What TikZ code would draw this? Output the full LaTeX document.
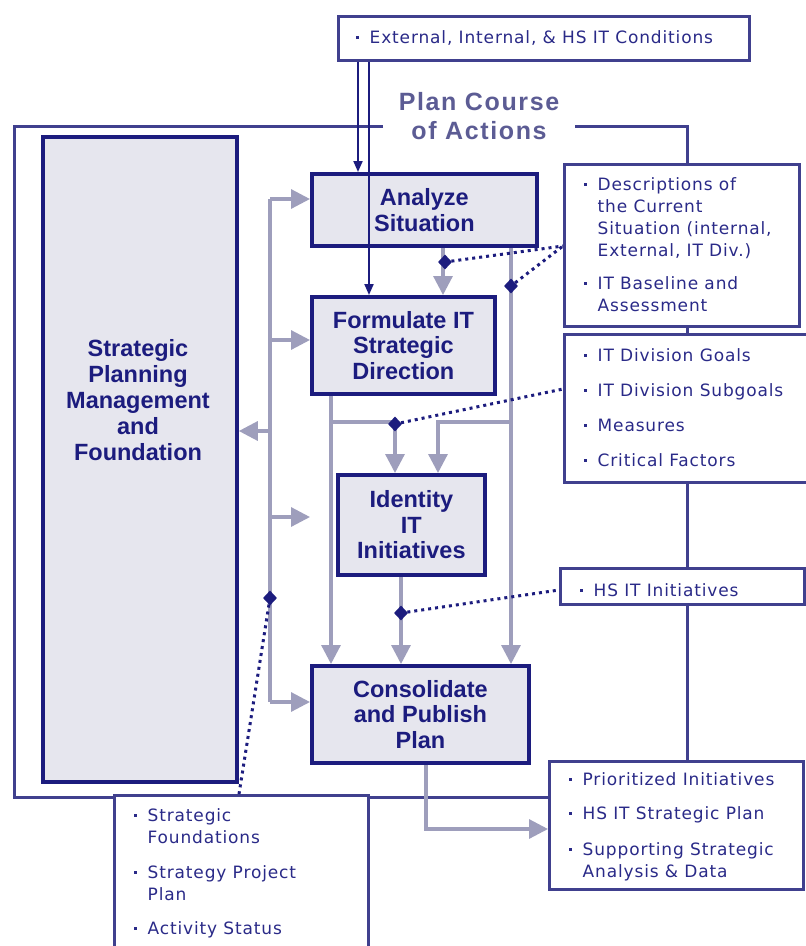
\documentclass[tikz,border=0pt]{standalone}
\usepackage{fontspec}
\setmainfont{Liberation Sans}
\newfontfamily\bulfont{DejaVu Sans}[LetterSpace=5]
\newfontfamily\ttlfont{Liberation Sans}[LetterSpace=6.5]
\usetikzlibrary{arrows.meta,shapes.geometric,calc}
\definecolor{navy}{HTML}{1C1C7E}
\definecolor{slate}{HTML}{40408E}
\definecolor{itextc}{HTML}{2A2A88}
\definecolor{grayc}{HTML}{9E9EBC}
\definecolor{fillc}{HTML}{E6E6EE}
\definecolor{titlec}{HTML}{5C5C94}
\newcommand{\bul}{\makebox[15pt][l]{\hspace{1pt}\raisebox{4.5pt}{\rule{3pt}{3pt}}}}
\tikzset{
  frame/.style={draw=slate, line width=3pt},
  infobox/.style={draw=slate, line width=3pt, fill=white, inner sep=0, anchor=north west},
  stepbox/.style={draw=navy, line width=3.8pt, fill=fillc, inner sep=0, anchor=north west,
     text=navy, align=center, font=\fontsize{23.5}{25.5}\selectfont\bfseries},
  steptext/.style={text=navy, align=center, inner sep=0, font=\fontsize{23.5}{26}\selectfont\bfseries},
  itext/.style={text=itextc, inner sep=0, anchor=base west, font={\bulfont\fontsize{17}{22}\selectfont}},
  ttl/.style={text=titlec, align=center, inner sep=0, font={\ttlfont\bfseries\fontsize{25}{29}\selectfont}},
  gline/.style={draw=grayc, line width=3.2pt},
  garrow/.style={draw=grayc, line width=3.2pt, -{Triangle[length=19pt,width=19pt]}},
  narrow/.style={draw=navy, line width=2pt, -{Triangle[length=11pt,width=9pt]}},
  dia/.style={diamond, fill=navy, inner sep=0, minimum width=14pt, minimum height=15pt},
  dotl/.style={draw=navy, line width=3pt, dash pattern=on 3pt off 4pt},
}
\begin{document}
\begin{tikzpicture}[x=1pt,y=-1pt]
\useasboundingbox (0,0) rectangle (806,946);
\fill[white] (0,0) rectangle (806,946);
% outer frame
\draw[frame] (383,126) -- (14,126) -- (14,797) -- (687,797) -- (687,126) -- (575,126);
\node[ttl] (title) at (479,116) {Plan Course\\of Actions};
% info boxes
\node[infobox, minimum width=411, minimum height=44] (tb) at (337,15) {};
\node[infobox, minimum width=235, minimum height=162] (desc) at (563,163) {};
\node[infobox, minimum width=260, minimum height=148] (goals) at (563,333) {};
\node[infobox, minimum width=244, minimum height=36] (hs) at (559,567) {};
\node[infobox, minimum width=254, minimum height=128] (pr) at (548,760) {};
\node[infobox, minimum width=254, minimum height=220] (sf) at (113,794) {};
% info texts
\node[itext] (tbt) at (354.5,43.5) {\bul External, Internal, \& HS IT Conditions};
\node[itext] (desct) at (582.5,190) {\begin{tabular}[t]{@{}l@{}l@{}}
  \bul & Descriptions of\\ & the Current\\ & Situation (internal,\\ & External, IT Div.)\\[11pt]
  \bul & IT Baseline and\\ & Assessment\end{tabular}};
\node[itext] (goalst) at (582.5,361) {\begin{tabular}[t]{@{}l@{}l@{}}
  \bul & IT Division Goals\\[13pt] \bul & IT Division Subgoals\\[13pt]
  \bul & Measures\\[13pt] \bul & Critical Factors\end{tabular}};
\node[itext] (hst) at (578.5,596) {\bul HS IT Initiatives};
\node[itext] (prt) at (567.5,785) {\begin{tabular}[t]{@{}l@{}l@{}}
  \bul & Prioritized Initiatives\\[12pt] \bul & HS IT Strategic Plan\\[14pt]
  \bul & Supporting Strategic\\ & Analysis \& Data\end{tabular}};
\node[itext] (sft) at (132.5,821) {\begin{tabular}[t]{@{}l@{}l@{}}
  \bul & Strategic\\ & Foundations\\[13pt] \bul & Strategy Project\\ & Plan\\[12pt]
  \bul & Activity Status\end{tabular}};
% step boxes
\node[stepbox, minimum width=194, minimum height=645] (sp) at (41,135) {};
\node[steptext] (spt) at (138,400) {Strategic\\Planning\\Management\\and\\Foundation};
\node[stepbox, minimum width=225, minimum height=72] (an) at (310,172) {Analyze\\Situation};
\node[stepbox, minimum width=183, minimum height=97] (fo) at (310,295) {Formulate IT\\Strategic\\Direction};
\node[stepbox, minimum width=147, minimum height=100] (id) at (336,473) {Identity\\IT\\Initiatives};
\node[stepbox, minimum width=217, minimum height=97] (co) at (310,664) {Consolidate\\and Publish\\Plan};
% gray bus
\coordinate (bt) at (270,199);
\coordinate (bb) at (270,702);
\coordinate (b2) at (270,340);
\coordinate (b3) at (270,431);
\coordinate (b4) at (270,517);
\coordinate (b4e) at (310,517);
\draw[gline] (bt) -- (bb);
\draw[garrow] (bt) -- (bt -| an.west);
\draw[garrow] (b2) -- (b2 -| fo.west);
\draw[garrow] (b3) -- (b3 -| sp.east);
\draw[garrow] (b4) -- (b4e);
\draw[garrow] (bb) -- (bb -| co.west);
% vertical flows
\coordinate (a1) at (443,0);
\coordinate (r1) at (511,0);
\coordinate (l1) at (331,0);
\coordinate (m1) at (401,0);
\draw[garrow] (an.south -| a1) -- (fo.north -| a1);
\draw[garrow] (an.south -| r1) -- (co.north -| r1);
\draw[garrow] (fo.south -| l1) -- (co.north -| l1);
\draw[garrow] (id.south -| m1) -- (co.north -| m1);
\coordinate (j1) at (331,422);
\coordinate (j2) at (395,422);
\coordinate (j3) at (511,422);
\coordinate (j4) at (438,422);
\draw[garrow] (j1) -- (j2) -- (j2 |- id.north);
\draw[garrow] (j3) -- (j4) -- (j4 |- id.north);
\coordinate (k1) at (426,829);
\draw[garrow] (co.south -| k1) -- (k1) -- (k1 -| pr.west);
% navy input arrows
\coordinate (n1) at (358,0);
\coordinate (n2) at (369,0);
\draw[narrow] (tb.south -| n1) -- (an.north -| n1);
\draw[narrow] (tb.south -| n2) -- (fo.north -| n2);
% diamonds and dotted links
\node[dia] (d1) at (445,262) {};
\node[dia] (d2) at (511,286) {};
\node[dia] (d3) at (395,424) {};
\node[dia] (d4) at (270,598) {};
\node[dia] (d5) at (401,613) {};
\coordinate (c1) at (563,246);
\coordinate (c2) at (563,389);
\coordinate (c4) at (239,794);
\coordinate (c5) at (559,590);
\draw[dotl] (d1) -- (c1);
\draw[dotl] (d2) -- (c1);
\draw[dotl] (d3) -- (c2);
\draw[dotl] (d4) -- (c4);
\draw[dotl] (d5) -- (c5);
\end{tikzpicture}
\end{document}
